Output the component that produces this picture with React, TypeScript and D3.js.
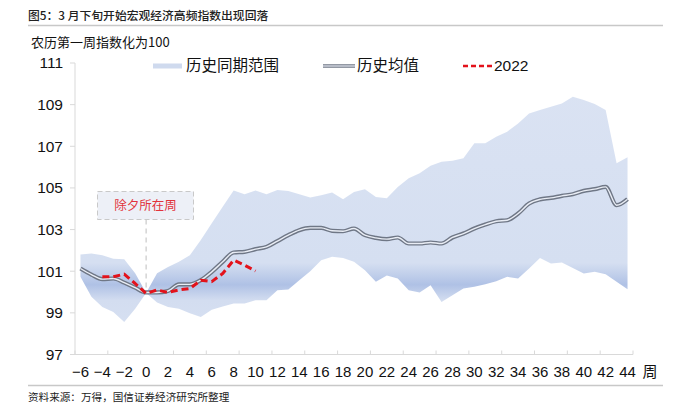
import React from "react";
import * as d3 from "d3";

const weeks: number[] = d3.range(-6, 45);

const bandUpper: number[] = [
  101.8, 101.85, 101.77, 101.6, 101.58, 100.9, 99.95, 100.9, 101.2, 101.45,
  101.77, 102.5, 103.3, 104.1, 104.88, 104.7, 104.88, 104.7, 104.9, 104.85,
  104.7, 104.54, 104.65, 104.78, 104.46, 104.8, 104.94, 104.57, 104.5, 105.05,
  105.46, 105.7, 106.06, 106.26, 106.3, 106.42, 107.14, 107.14, 107.46, 107.7,
  108.1, 108.58, 108.74, 108.9, 109.06, 109.38, 109.22, 109.03, 108.74, 106.18,
  106.47,
];

const bandLower: number[] = [
  100.73, 99.77, 99.28, 99.04, 98.56, 99.2, 99.95, 99.5, 99.28, 99.2,
  98.98, 98.8, 99.15, 99.3, 99.45, 99.45, 99.6, 99.6, 100.09, 100.12,
  100.57, 101.0, 101.53, 101.7, 101.64, 101.45, 101.05, 100.5, 100.8, 100.65,
  100.09, 99.98, 100.33, 99.52, 99.85, 100.17, 100.25, 100.37, 100.52, 100.73,
  100.65, 101.13, 101.64, 101.37, 101.42, 101.16, 100.89, 100.97, 100.85, 100.5,
  100.13,
];

const histMean: number[] = [
  101.13, 100.84, 100.62, 100.65, 100.45, 100.21, 99.98, 99.98, 100.05, 100.37,
  100.37, 100.57, 100.97, 101.45, 101.9, 101.93, 102.06, 102.17, 102.45, 102.73,
  102.97, 103.08, 103.08, 102.94, 102.92, 103.05, 102.73, 102.6, 102.54, 102.62,
  102.33, 102.33, 102.38, 102.33, 102.62, 102.81, 103.05, 103.24, 103.4, 103.45,
  103.77, 104.25, 104.45, 104.52, 104.62, 104.7, 104.86, 104.94, 105.05, 104.17,
  104.46,
];

const weeks2022: number[] = d3.range(-4, 11);
const values2022: number[] = [
  100.73, 100.73, 100.86, 100.41, 99.93, 100.1, 99.98, 100.1, 100.17, 100.57,
  100.5, 100.89, 101.53, 101.29, 101.01,
];

const yTicks: number[] = d3.range(97, 112, 2);
const xTickLabels: number[] = d3.range(-6, 45, 2);

const title = "图5：3 月下旬开始宏观经济高频指数出现回落";
const subtitle = "农历第一周指数化为100";
const source = "资料来源：万得，国信证券经济研究所整理";
const legendNames = ["历史同期范围", "历史均值", "2022"];
const annotation = "除夕所在周";
const xUnit = "周";

const CJK = "'Noto Sans CJK SC', 'Noto Sans', sans-serif";
const NUM = "'Liberation Sans Narrow', 'Liberation Sans', Arial, sans-serif";

export default function App() {
  const W = 700;
  const H = 413;
  const left = 75;
  const right = 633;
  const top = 63;
  const bottom = 354.5;

  const x = d3.scalePoint<number>().domain(weeks).range([left, right]).padding(0.5);
  const y = d3.scaleLinear().domain([97, 111]).range([bottom, top]);
  const step = x.step();

  const area = d3
    .area<number>()
    .x((_, i) => x(weeks[i]) as number)
    .y0((_, i) => y(bandLower[i]))
    .y1((_, i) => y(bandUpper[i]));

  const meanLine = d3
    .line<number>()
    .x((_, i) => x(weeks[i]) as number)
    .y((d) => y(d))
    .curve(d3.curveMonotoneX);

  const line2022 = d3
    .line<number>()
    .x((_, i) => x(weeks2022[i]) as number)
    .y((d) => y(d));

  const majorTicks = d3.range(0, weeks.length + 1, 3).map((k) => left + k * step);
  const x0 = x(0) as number;

  const gy = (v: number) => (y(v) - top) / (bottom - top);

  return (
    <div style={{ position: "fixed", left: 0, top: 0 }}>
      <svg width={W} height={H} style={{ display: "block", background: "#fff" }}>
        <defs>
          <linearGradient id="bandGrad" x1="0" y1={top} x2="0" y2={bottom} gradientUnits="userSpaceOnUse">
            <stop offset="0" stopColor="#dbe3f3" />
            <stop offset={gy(101.4)} stopColor="#d5dff1" />
            <stop offset={gy(100.35)} stopColor="#afc1e5" />
            <stop offset={gy(99.6)} stopColor="#d3ddf0" />
            <stop offset="1" stopColor="#dae3f3" />
          </linearGradient>
        </defs>

        {/* title */}
        <text x={28} y={20} fontFamily={CJK} fontSize={11.8} fill="#222" fontWeight={500}>
          {title}
        </text>
        <line x1={28} x2={663} y1={25.5} y2={25.5} stroke="#c8c8c8" strokeWidth={1.5} />
        <text x={31} y={47} fontFamily={CJK} fontSize={13} fill="#111">
          {subtitle}
        </text>

        {/* band */}
        <path d={area(bandUpper) || ""} fill="url(#bandGrad)" />

        {/* y axis */}
        <line x1={left} x2={left} y1={top} y2={bottom} stroke="#d9d9d9" />
        {yTicks.map((t) => (
          <g key={t}>
            <line x1={left - 5} x2={left} y1={y(t)} y2={y(t)} stroke="#d9d9d9" />
            <text x={63} y={y(t)} dy="0.35em" textAnchor="end" fontFamily={NUM} fontSize={15.5} fill="#111">
              {t}
            </text>
          </g>
        ))}

        {/* x axis */}
        <line x1={left} x2={right} y1={bottom} y2={bottom} stroke="#d9d9d9" />
        {majorTicks.map((t, i) => (
          <line key={i} x1={t} x2={t} y1={bottom} y2={bottom - 4} stroke="#d9d9d9" />
        ))}
        {xTickLabels.map((t) => (
          <text key={t} x={x(t) as number} y={377} textAnchor="middle" fontFamily={NUM} fontSize={15} fill="#111">
            {t < 0 ? "−" + Math.abs(t) : t}
          </text>
        ))}
        <text x={650} y={377} textAnchor="middle" fontFamily={CJK} fontSize={15} fill="#111">
          {xUnit}
        </text>

        {/* annotation */}
        <line x1={x0} x2={x0} y1={219.5} y2={y(100) - 2} stroke="#c9c9c9" strokeDasharray="5,4" strokeWidth={1.2} />
        <rect x={97.5} y={191.5} width={96} height={28} fill="#edf0f7" stroke="#c9c9c9" strokeDasharray="5,3" />
        <text x={145.5} y={205.5} dy="0.35em" textAnchor="middle" fontFamily={CJK} fontSize={12.5} fill="#e2343c">
          {annotation}
        </text>

        {/* mean line: compound */}
        <path d={meanLine(histMean) || ""} fill="none" stroke="#6f7786" strokeWidth={4.2} strokeLinejoin="round" />
        <path d={meanLine(histMean) || ""} fill="none" stroke="#e9edf5" strokeWidth={1.4} strokeLinejoin="round" />

        {/* 2022 */}
        <path
          d={line2022(values2022) || ""}
          fill="none"
          stroke="#e3121b"
          strokeWidth={3}
          strokeDasharray="7,4"
          strokeLinejoin="round"
        />

        {/* legend */}
        <rect x={153} y={63.5} width={29} height={5} fill="#cfdaee" />
        <text x={186} y={66} dy="0.35em" fontFamily={CJK} fontSize={15.5} fill="#111">
          {legendNames[0]}
        </text>
        <line x1={323} x2={355} y1={66} y2={66} stroke="#6f7786" strokeWidth={3.5} />
        <line x1={323} x2={355} y1={66} y2={66} stroke="#e9edf5" strokeWidth={1.2} />
        <text x={357} y={66} dy="0.35em" fontFamily={CJK} fontSize={15.5} fill="#111">
          {legendNames[1]}
        </text>
        <line x1={463} x2={492} y1={66} y2={66} stroke="#e3121b" strokeWidth={2.5} strokeDasharray="5,3" />
        <text x={494} y={66} dy="0.35em" fontFamily={NUM} fontSize={15.5} fill="#111">
          {legendNames[2]}
        </text>

        {/* footer */}
        <line x1={28} x2={663} y1={385.5} y2={385.5} stroke="#c8c8c8" strokeWidth={1.5} />
        <text x={28} y={401} fontFamily={CJK} fontSize={10.6} fill="#222">
          {source}
        </text>
      </svg>
    </div>
  );
}
